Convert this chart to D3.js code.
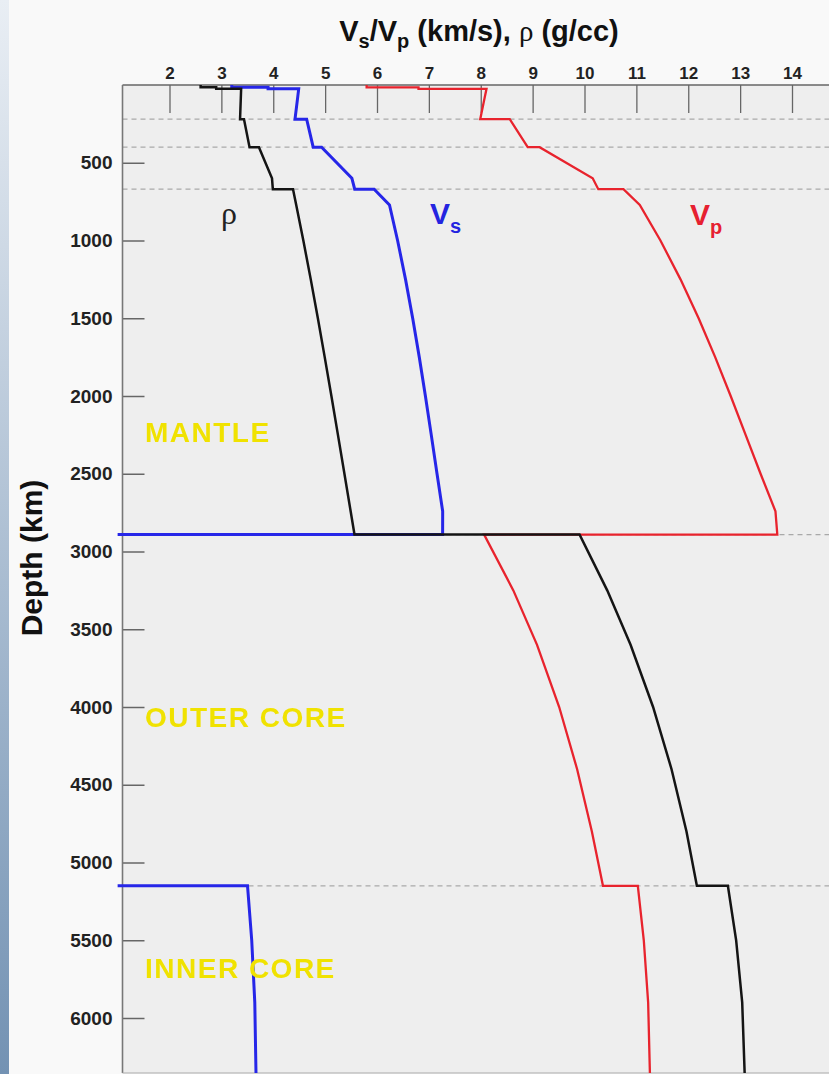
<!DOCTYPE html>
<html>
<head>
<meta charset="utf-8">
<script src="https://cdn.jsdelivr.net/npm/d3@7"></script>
<style>
  html, body { margin: 0; padding: 0; background: #f8f8f8; }
  svg { display: block; }
</style>
</head>
<body>
<svg id="chart" width="829" height="1074"></svg>
<script>
// PREM-style radial profile: depth (km) with density and seismic velocities.
// Repeated depths mark first-order discontinuities.
const depthKm = [0, 15, 15, 24.4, 24.4, 80, 220, 220, 400, 400, 600, 670, 670, 771,
  1000, 1250, 1500, 1750, 2000, 2250, 2500, 2741, 2891,
  2891, 3250, 3600, 4000, 4400, 4800, 5150,
  5150, 5500, 5900, 6371];
const density = [2.60, 2.60, 2.90, 2.90, 3.381, 3.375, 3.360, 3.436, 3.543, 3.724, 3.976, 3.992, 4.381, 4.443,
  4.580, 4.723, 4.860, 4.992, 5.121, 5.247, 5.372, 5.492, 5.566,
  9.904, 10.438, 10.888, 11.322, 11.678, 11.966, 12.166,
  12.764, 12.923, 13.040, 13.089];
const vpKms = [5.80, 5.80, 6.80, 6.80, 8.111, 8.076, 7.990, 8.559, 8.905, 9.134, 10.158, 10.266, 10.751, 11.066,
  11.464, 11.851, 12.200, 12.519, 12.818, 13.106, 13.394, 13.681, 13.717,
  8.065, 8.628, 9.085, 9.512, 9.858, 10.142, 10.356,
  11.028, 11.143, 11.227, 11.262];
const vsKms = [3.20, 3.20, 3.90, 3.90, 4.491, 4.471, 4.419, 4.644, 4.770, 4.932, 5.516, 5.570, 5.945, 6.241,
  6.397, 6.550, 6.688, 6.815, 6.933, 7.046, 7.157, 7.266, 7.265,
  0, 0, 0, 0, 0, 0, 0,
  3.504, 3.585, 3.644, 3.668];

const velocityTicks = [2, 3, 4, 5, 6, 7, 8, 9, 10, 11, 12, 13, 14];
const depthTicks = [500, 1000, 1500, 2000, 2500, 3000, 3500, 4000, 4500, 5000, 5500, 6000];
const discontinuityDepths = [220, 400, 670, 2891, 5150];
const regionNames = ["MANTLE", "OUTER CORE", "INNER CORE"];

const W = 829, H = 1074;
const svg = d3.select("#chart");
const FONT = "'Liberation Sans', Arial, Helvetica, sans-serif";

const x = d3.scaleLinear().domain([2, 14]).range([169.5, 792]);
const y = d3.scaleLinear().domain([0, 6000]).range([85, 1018]);

const frame = { left: 122.5, right: 846, top: y(0), bottom: 1073 };

const defs = svg.append("defs");
const grad = defs.append("linearGradient").attr("id", "edge").attr("x1", 0).attr("y1", 0).attr("x2", 0).attr("y2", 1);
grad.append("stop").attr("offset", "0%").attr("stop-color", "#e9eef4");
grad.append("stop").attr("offset", "100%").attr("stop-color", "#7392b3");
defs.append("clipPath").attr("id", "plotClip")
  .append("rect")
  .attr("x", x(1)).attr("y", frame.top - 4)
  .attr("width", W - x(1)).attr("height", frame.bottom - frame.top + 4);
const soft = defs.append("filter").attr("id", "soft").attr("x", "-5%").attr("y", "-20%").attr("width", "110%").attr("height", "140%");
soft.append("feGaussianBlur").attr("stdDeviation", 0.7);

// page background and side band
svg.append("rect").attr("width", W).attr("height", H).attr("fill", "#f9f9f9");
svg.append("rect").attr("x", 0).attr("y", 0).attr("width", 9).attr("height", H).attr("fill", "url(#edge)");

// plot panel
svg.append("rect")
  .attr("x", frame.left).attr("y", frame.top)
  .attr("width", frame.right - frame.left).attr("height", frame.bottom - frame.top)
  .attr("fill", "#eeeeee");

// discontinuity guides
svg.append("g").selectAll("line").data(discontinuityDepths).join("line")
  .attr("x1", frame.left).attr("x2", W)
  .attr("y1", d => y(d)).attr("y2", d => y(d))
  .attr("stroke", "#a9a9a9").attr("stroke-width", 1.2)
  .attr("stroke-dasharray", "5,4");

// top axis (velocity / density)
const topAxis = svg.append("g")
  .attr("transform", `translate(0,${frame.top})`)
  .call(d3.axisTop(x).tickValues(velocityTicks).tickSize(-28).tickPadding(6).tickFormat(d3.format("d")));
topAxis.select(".domain").remove();
topAxis.selectAll(".tick line").attr("stroke", "#666").attr("stroke-width", 1.3);
topAxis.selectAll(".tick text")
  .attr("fill", "#222").attr("font-family", FONT).attr("font-size", 17).attr("font-weight", "bold");

// left axis (depth)
const leftAxis = svg.append("g")
  .attr("transform", `translate(${frame.left},0)`)
  .call(d3.axisLeft(y).tickValues(depthTicks).tickSize(-22).tickPadding(10).tickFormat(d3.format("d")));
leftAxis.select(".domain").remove();
leftAxis.selectAll(".tick line").attr("stroke", "#666").attr("stroke-width", 1.5);
leftAxis.selectAll(".tick text")
  .attr("fill", "#222").attr("font-family", FONT).attr("font-size", 19).attr("font-weight", "bold");

// frame edges
svg.append("line").attr("x1", frame.left).attr("x2", W).attr("y1", frame.top).attr("y2", frame.top)
  .attr("stroke", "#666").attr("stroke-width", 1.6);
svg.append("line").attr("x1", frame.left).attr("x2", frame.left).attr("y1", frame.top).attr("y2", frame.bottom)
  .attr("stroke", "#777").attr("stroke-width", 1.6);
svg.append("line").attr("x1", frame.left).attr("x2", W).attr("y1", frame.bottom).attr("y2", frame.bottom)
  .attr("stroke", "#aaa").attr("stroke-width", 1);

// profiles
const profiles = [
  { values: vsKms, color: "#2626e8", width: 3 },
  { values: vpKms, color: "#e8232d", width: 2.3 },
  { values: density, color: "#141414", width: 2.5 }
];
const curves = svg.append("g").attr("clip-path", "url(#plotClip)");
profiles.forEach(p => {
  const line = d3.line().x((d, i) => x(p.values[i])).y(d => y(d));
  curves.append("path")
    .datum(depthKm)
    .attr("d", line)
    .attr("fill", "none")
    .attr("stroke", p.color)
    .attr("stroke-width", p.width)
    .attr("stroke-linejoin", "miter");
});

// curve labels
svg.append("text").attr("x", 221).attr("y", 224)
  .attr("font-family", "'Liberation Serif', 'DejaVu Serif', serif").attr("font-size", 32)
  .attr("fill", "#222").text("ρ");

function subLabel(px, py, main, sub, color) {
  const t = svg.append("text").attr("x", px).attr("y", py)
    .attr("font-family", FONT).attr("font-weight", "bold").attr("font-size", 30).attr("fill", color);
  t.append("tspan").text(main);
  t.append("tspan").attr("font-size", 20).attr("dy", 9).text(sub);
}
subLabel(430, 224, "V", "s", "#2424e0");
subLabel(690, 225, "V", "p", "#e62030");

// region labels
const regionDepths = [2296, 4128, 5743];
svg.append("g").attr("filter", "url(#soft)").selectAll("text").data(regionNames).join("text")
  .attr("x", 145).attr("y", (d, i) => y(regionDepths[i]))
  .attr("font-family", FONT).attr("font-weight", "bold").attr("font-size", 28)
  .attr("letter-spacing", 1.5)
  .attr("fill", "#f0e200")
  .text(d => d);

// axis titles
const title = svg.append("text").attr("x", 479).attr("y", 41).attr("text-anchor", "middle")
  .attr("font-family", FONT).attr("font-weight", "bold").attr("font-size", 29).attr("fill", "#111");
title.append("tspan").text("V");
title.append("tspan").attr("font-size", 20).attr("dy", 7).text("s");
title.append("tspan").attr("dy", -7).text("/V");
title.append("tspan").attr("font-size", 20).attr("dy", 7).text("p");
title.append("tspan").attr("dy", -7).text(" (km/s), ");
title.append("tspan").attr("font-weight", "normal").attr("font-family", "'Liberation Serif', serif").text("ρ");
title.append("tspan").text(" (g/cc)");

svg.append("text")
  .attr("transform", "translate(42,558) rotate(-90)")
  .attr("text-anchor", "middle")
  .attr("font-family", FONT).attr("font-weight", "bold").attr("font-size", 30).attr("fill", "#111")
  .text("Depth (km)");
</script>
</body>
</html>
